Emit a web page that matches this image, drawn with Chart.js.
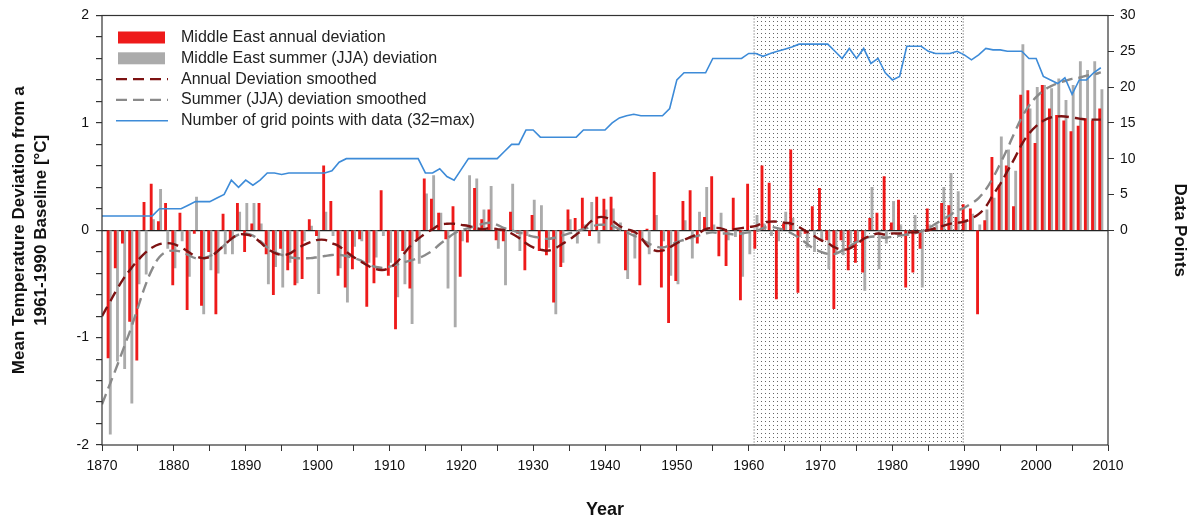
<!DOCTYPE html>
<html>
<head>
<meta charset="utf-8">
<title>Middle East temperature deviation 1870-2009</title>
<script src="https://cdn.jsdelivr.net/npm/chart.js@4.4.1/dist/chart.umd.min.js"></script>
<style>
  html, body { margin: 0; padding: 0; background: #fff; }
  #wrap { width: 1189px; height: 520px; }
</style>
</head>
<body>
<div id="wrap"><canvas id="chart" width="1189" height="520"></canvas></div>
<script>
// values, one row per decade (1870s ... 2000s)
const firstYear = 1870;

const annualDev = [
  null, -1.19, -0.35, -0.12, -0.85, -1.21, 0.26, 0.43, 0.08, 0.25,
  -0.51, 0.16, -0.74, -0.03, -0.70, -0.20, -0.78, 0.15, -0.08, 0.25,
  -0.20, 0.06, 0.25, -0.22, -0.60, -0.17, -0.37, -0.51, -0.45, 0.10,
  -0.05, 0.60, 0.27, -0.42, -0.53, -0.36, -0.08, -0.71, -0.49, 0.37,
  -0.42, -0.92, -0.19, -0.54, -0.09, 0.48, 0.29, 0.16, -0.08, 0.22,
  -0.43, -0.11, 0.39, 0.10, 0.19, -0.09, -0.10, 0.17, -0.03, -0.37,
  0.14, -0.19, -0.23, -0.67, -0.34, 0.19, 0.11, 0.30, -0.05, 0.31,
  0.29, 0.31, 0.02, -0.37, -0.02, -0.51, 0.01, 0.54, -0.53, -0.86,
  -0.47, 0.27, 0.37, -0.12, 0.12, 0.50, -0.24, -0.33, 0.30, -0.65,
  0.43, -0.17, 0.60, 0.44, -0.64, 0.06, 0.75, -0.58, -0.03, 0.22,
  0.39, -0.09, -0.73, -0.09, -0.37, -0.30, -0.39, 0.11, 0.16, 0.50,
  0.07, 0.28, -0.53, -0.39, -0.17, 0.20, 0.02, 0.25, 0.23, 0.12,
  0.24, 0.20, -0.78, 0.09, 0.68, 0.42, 0.60, 0.22, 1.26, 1.30,
  0.81, 1.35, 1.13, 1.07, 1.02, 0.92, 0.97, 1.04, 1.02, 1.13
];

const summerDev = [
  null, -1.90, -1.22, -1.29, -1.61, -0.50, -0.41, 0.10, 0.38, -0.17,
  -0.35, -0.10, -0.43, 0.31, -0.78, -0.37, -0.40, -0.22, -0.22, 0.17,
  0.25, 0.25, 0.06, -0.50, -0.34, -0.53, -0.30, -0.49, -0.10, 0.04,
  -0.59, 0.17, -0.05, -0.35, -0.67, -0.15, -0.10, -0.30, -0.25, -0.05,
  -0.30, -0.62, -0.50, -0.87, -0.31, 0.34, 0.51, 0.16, -0.54, -0.90,
  -0.10, 0.51, 0.48, 0.19, 0.41, -0.17, -0.51, 0.43, -0.19, -0.05,
  0.28, 0.23, -0.16, -0.78, -0.30, 0.10, -0.12, 0.05, 0.26, -0.12,
  0.19, 0.20, 0.07, -0.45, -0.26, -0.10, -0.22, 0.14, -0.10, -0.42,
  -0.50, 0.09, -0.26, 0.17, 0.40, 0.05, 0.16, -0.09, -0.06, -0.43,
  -0.22, 0.14, 0.06, -0.05, -0.10, 0.17, 0.11, -0.06, -0.16, -0.20,
  -0.09, -0.36, -0.22, -0.23, -0.12, -0.10, -0.56, 0.40, -0.36, -0.12,
  0.27, 0.05, -0.05, 0.14, -0.53, 0.05, 0.05, 0.40, 0.53, 0.36,
  0.10, 0.15, 0.05, 0.19, 0.30, 0.87, 0.75, 0.55, 1.73, 1.13,
  1.33, 1.35, 1.32, 1.41, 1.21, 1.35, 1.57, 1.49, 1.57, 1.31
];

const annualSmooth = [
  -0.80, -0.68, -0.56, -0.45, -0.36, -0.28, -0.21, -0.16, -0.13, -0.12,
  -0.13, -0.16, -0.20, -0.24, -0.26, -0.25, -0.20, -0.14, -0.08, -0.04,
  -0.04, -0.06, -0.11, -0.17, -0.21, -0.23, -0.22, -0.18, -0.14, -0.11,
  -0.09, -0.09, -0.12, -0.15, -0.20, -0.25, -0.29, -0.33, -0.36, -0.37,
  -0.35, -0.30, -0.22, -0.14, -0.08, -0.03, 0.01, 0.05, 0.06, 0.06,
  0.05, 0.04, 0.02, 0.01, 0.02, 0.01, 0.00, -0.03, -0.07, -0.12,
  -0.16, -0.18, -0.19, -0.17, -0.13, -0.09, -0.04, 0.01, 0.08, 0.12,
  0.12, 0.09, 0.04, 0.01, -0.01, -0.07, -0.15, -0.19, -0.19, -0.16,
  -0.12, -0.09, -0.06, -0.03, 0.01, 0.02, 0.02, 0.00, 0.01, 0.02,
  0.03, 0.04, 0.07, 0.08, 0.08, 0.07, 0.06, 0.03, -0.01, -0.05,
  -0.09, -0.12, -0.16, -0.18, -0.17, -0.13, -0.08, -0.05, -0.03, -0.04,
  -0.03, -0.03, -0.02, -0.02, -0.01, 0.00, 0.02, 0.04, 0.06, 0.07,
  0.08, 0.11, 0.15, 0.22, 0.33, 0.43, 0.55, 0.67, 0.80, 0.90,
  0.97, 1.02, 1.05, 1.06, 1.06, 1.05, 1.04, 1.03, 1.03, 1.03
];

const summerSmooth = [
  -1.62, -1.45, -1.28, -1.10, -0.92, -0.72, -0.52, -0.36, -0.25, -0.20,
  -0.19, -0.20, -0.23, -0.26, -0.26, -0.24, -0.20, -0.14, -0.08, -0.04,
  -0.03, -0.05, -0.10, -0.16, -0.20, -0.23, -0.25, -0.26, -0.26, -0.26,
  -0.25, -0.24, -0.23, -0.23, -0.24, -0.26, -0.28, -0.32, -0.34, -0.35,
  -0.34, -0.32, -0.30, -0.28, -0.26, -0.23, -0.19, -0.13, -0.08, -0.03,
  0.00, 0.02, 0.04, 0.06, 0.07, 0.05, 0.02, 0.00, -0.02, -0.04,
  -0.06, -0.07, -0.08, -0.07, -0.05, -0.03, -0.01, 0.01, 0.03, 0.05,
  0.05, 0.04, 0.01, -0.02, -0.05, -0.08, -0.12, -0.15, -0.16, -0.14,
  -0.11, -0.09, -0.07, -0.05, -0.03, -0.02, -0.03, -0.03, -0.04, -0.03,
  -0.02, -0.01, 0.02, 0.03, 0.02, 0.00, -0.03, -0.07, -0.12, -0.17,
  -0.20, -0.22, -0.22, -0.19, -0.15, -0.11, -0.08, -0.06, -0.06, -0.07,
  -0.06, -0.05, -0.04, -0.03, -0.01, 0.02, 0.06, 0.10, 0.14, 0.18,
  0.21, 0.25, 0.30, 0.38, 0.49, 0.62, 0.76, 0.91, 1.05, 1.16,
  1.24, 1.30, 1.34, 1.37, 1.39, 1.41, 1.42, 1.44, 1.45, 1.47
];

// right axis: number of grid points with data
const gridPoints = [
  2, 2, 2, 2, 2, 2, 2, 2, 3, 3,
  3, 3, 3.5, 4, 4, 4, 4.5, 5, 7, 6,
  7, 6.3, 7, 8, 8, 7.8, 8, 8, 8, 8,
  8, 8, 8.3, 9.5, 10, 10, 10, 10, 10, 10,
  10, 10, 10, 10, 10, 8, 8, 8.6, 7.5, 7,
  8.5, 10, 10, 10, 10, 10, 11, 12, 12, 14,
  14, 13, 13, 13, 13, 13, 13, 14, 14, 14,
  14, 15, 15.7, 16, 16.2, 16, 16, 16, 16, 17,
  21, 22, 22, 22, 22, 24, 24, 24, 24, 24,
  24.7, 24.7, 24.3, 24.7, 25, 25.3, 25.6, 26, 26, 26,
  26, 26, 25, 24, 25.4, 24, 25.4, 23.3, 24, 22,
  21, 21.5, 25.7, 25.7, 25.7, 25, 24.7, 24.7, 24.7, 25,
  24.5, 23.8, 24.5, 25.4, 25.2, 25.2, 25, 25, 25, 24,
  24, 21.5, 21, 20.5, 21.3, 19, 21, 21, 22, 22.7
];

const seriesNames = [
  'Middle East annual deviation',
  'Middle East summer (JJA) deviation',
  'Annual Deviation smoothed',
  'Summer (JJA) deviation smoothed',
  'Number of grid points with data (32=max)'
];

// 1961-1990 baseline period, dotted band
const shadeFrom = 1960.75, shadeTo = 1989.85;

const years = annualDev.map((_, i) => firstYear + i);
const pts = arr => arr.map((v, i) => ({ x: years[i], y: v }));

const RED = '#ee1a1a', GREY = '#ababab', DARKRED = '#7d1212', DASHGREY = '#8a8a8a', BLUE = '#3d8bd8';

Chart.defaults.font.family = '"Liberation Sans", Arial, sans-serif';
Chart.defaults.color = '#111';

// stippled baseline band + plot frame
const baselineShade = {
  id: 'baselineShade',
  beforeDatasetsDraw(chart) {
    const { ctx, chartArea: a, scales: { x } } = chart;
    const x0 = x.getPixelForValue(shadeFrom), x1 = x.getPixelForValue(shadeTo);
    const tile = document.createElement('canvas');
    tile.width = 4; tile.height = 4;
    const t = tile.getContext('2d');
    t.fillStyle = '#666';
    t.fillRect(1, 1, 1, 1);
    ctx.save();
    ctx.fillStyle = ctx.createPattern(tile, 'repeat');
    ctx.fillRect(x0, a.top, x1 - x0, a.bottom - a.top);
    ctx.strokeStyle = '#555';
    ctx.lineWidth = 1;
    ctx.setLineDash([1, 2]);
    ctx.beginPath();
    ctx.moveTo(x0, a.top); ctx.lineTo(x0, a.bottom);
    ctx.moveTo(x1, a.top); ctx.lineTo(x1, a.bottom);
    ctx.stroke();
    ctx.restore();
  },
  afterDraw(chart) {
    const { ctx, chartArea: a } = chart;
    ctx.save();
    ctx.strokeStyle = '#333';
    ctx.lineWidth = 1.2;
    ctx.strokeRect(a.left, a.top, a.right - a.left, a.bottom - a.top);
    ctx.restore();
  }
};

// legend sits inside the plot, top left
const insideLegend = {
  id: 'insideLegend',
  afterDatasetsDraw(chart) {
    const { ctx, chartArea: a } = chart;
    ctx.save();
    ctx.font = '16px "Liberation Sans", Arial, sans-serif';
    ctx.textBaseline = 'middle';
    chart.data.datasets.forEach((ds, i) => {
      const y = a.top + 22 + i * 20.8;
      if (ds.type === 'bar') {
        ctx.fillStyle = ds.backgroundColor;
        ctx.fillRect(a.left + 16, y - 6, 47, 12);
      } else {
        ctx.strokeStyle = ds.borderColor;
        ctx.lineWidth = ds.borderWidth;
        ctx.setLineDash(ds.borderDash || []);
        ctx.beginPath();
        ctx.moveTo(a.left + 14, y);
        ctx.lineTo(a.left + 66, y);
        ctx.stroke();
        ctx.setLineDash([]);
      }
      ctx.fillStyle = '#222';
      ctx.fillText(ds.label, a.left + 79, y);
    });
    ctx.restore();
  }
};

new Chart(document.getElementById('chart'), {
  type: 'bar',
  data: {
    datasets: [
      { type: 'bar', label: seriesNames[0], data: pts(annualDev), backgroundColor: RED, barThickness: 2.2, order: 3 },
      { type: 'bar', label: seriesNames[1], data: pts(summerDev), backgroundColor: GREY, barThickness: 2.2, order: 3 },
      { type: 'line', label: seriesNames[2], data: pts(annualSmooth), borderColor: DARKRED, borderWidth: 2.4,
        borderDash: [11, 6], pointRadius: 0, tension: 0.4, fill: false, order: 1 },
      { type: 'line', label: seriesNames[3], data: pts(summerSmooth), borderColor: DASHGREY, borderWidth: 2.4,
        borderDash: [11, 6], pointRadius: 0, tension: 0.4, fill: false, order: 2 },
      { type: 'line', label: seriesNames[4], data: pts(gridPoints), yAxisID: 'y2', borderColor: BLUE, borderWidth: 1.6,
        pointRadius: 0, tension: 0, fill: false, order: 1 }
    ]
  },
  options: {
    responsive: false,
    animation: false,
    devicePixelRatio: 1,
    events: [],
    layout: { padding: { top: 15.5, left: 0, right: 0, bottom: 0 } },
    plugins: { legend: { display: false }, tooltip: { enabled: false } },
    scales: {
      x: {
        type: 'linear', min: 1870, max: 2010, offset: false,
        ticks: { stepSize: 5, autoSkip: false, maxRotation: 0, padding: 7, font: { size: 14 },
          callback: v => (v % 10 === 0 ? String(v) : '') },
        grid: { drawOnChartArea: false, offset: false, tickLength: 6, tickColor: '#333' },
        border: { display: false },
        title: { display: true, text: 'Year', font: { size: 18, weight: 'bold', lineHeight: 1 },
          padding: { top: 0, bottom: 1 } },
        afterFit: s => { s.height = 75; }
      },
      y: {
        position: 'left', min: -2, max: 2,
        ticks: { stepSize: 0.2, autoSkip: false, padding: 7, font: { size: 14 },
          callback: v => (Math.abs(v - Math.round(v)) < 1e-9 ? String(Math.round(v)) : '') },
        grid: { color: c => (Math.abs(c.tick.value) < 1e-9 ? '#222' : 'rgba(0,0,0,0)'),
          lineWidth: 1.2, tickLength: 6, tickColor: '#333' },
        border: { display: false },
        title: { display: true, text: ['Mean Temperature Deviation from a', '1961-1990 Baseline [°C]'],
          font: { size: 17, weight: 'bold', lineHeight: 1.25 }, padding: { top: 9, bottom: 0 } },
        afterFit: s => { s.width = 102; }
      },
      y2: {
        position: 'right', min: -30, max: 30,
        ticks: { stepSize: 5, autoSkip: false, padding: 6, font: { size: 14 },
          callback: v => (v >= 0 ? String(v) : '') },
        grid: { drawOnChartArea: false, tickLength: 6,
          tickColor: c => (c.tick && c.tick.value >= 0 ? '#333' : 'rgba(0,0,0,0)') },
        border: { display: false },
        title: { display: true, text: 'Data Points', font: { size: 17, weight: 'bold', lineHeight: 1 },
          padding: { top: 1, bottom: 0 } },
        afterFit: s => { s.width = 81; }
      }
    }
  },
  plugins: [baselineShade, insideLegend]
});
</script>
</body>
</html>
